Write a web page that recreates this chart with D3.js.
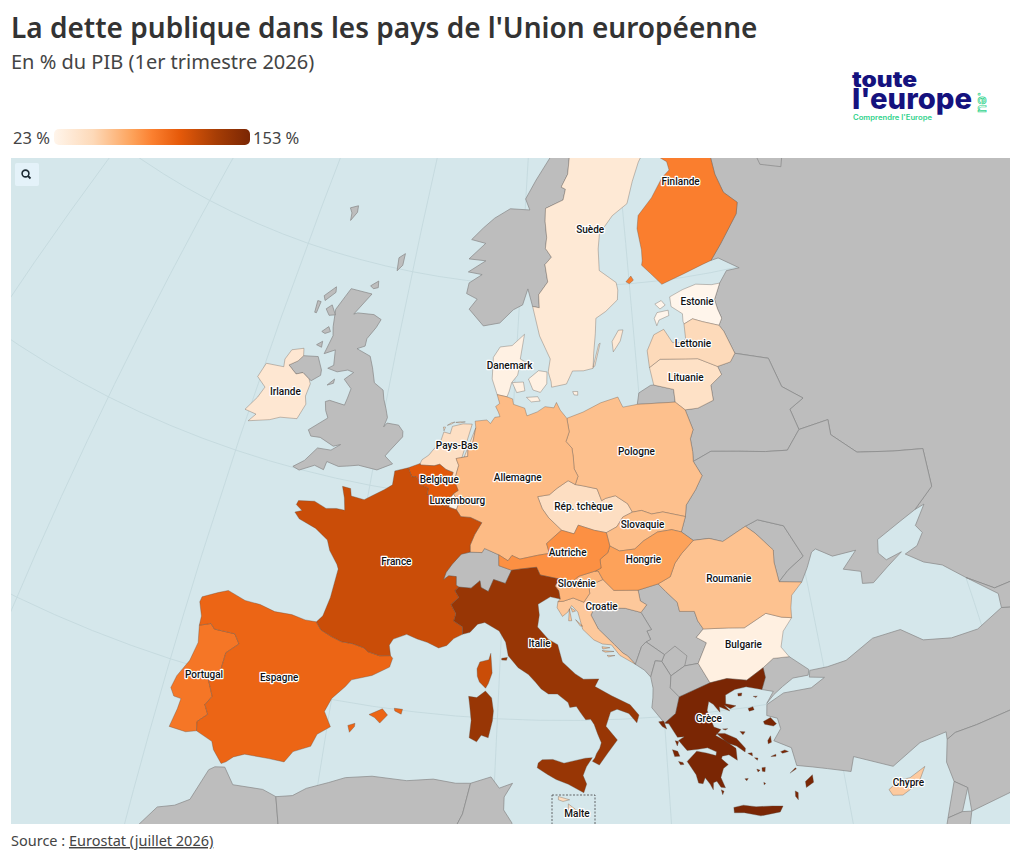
<!DOCTYPE html>
<html lang="fr">
<head>
<meta charset="utf-8">
<title>La dette publique dans les pays de l'Union européenne</title>
<script src="https://cdn.jsdelivr.net/npm/d3@7"></script>
<style>
  html, body { margin: 0; padding: 0; background: #fff; }
  svg { display: block; font-family: "Noto Sans", sans-serif; }
  .place { font-family: Roboto, sans-serif; font-size: 10px; font-weight: 500; fill: #111; paint-order: stroke; stroke: #fff; stroke-width: 2.4px; stroke-linejoin: round; text-anchor: middle; }
</style>
</head>
<body>
<div id="chart"></div>
<script>
// Debt values
const countryNames = ["Estonie","Bulgarie","Luxembourg","Danemark","Suède","Irlande","Lituanie","Pays-Bas","Rép. tchèque","Malte","Lettonie","Chypre","Croatie","Roumanie","Pologne","Slovaquie","Allemagne","Slovénie","Hongrie","Autriche","Finlande","Portugal","Espagne","Belgique","France","Italie","Grèce"];
const debtValues = [23,28,27,27,34,36,42,43,44,46,48,56,57,60,61,62,63,66,75,82,89,93,101,108,117,138,153];
const legendRange = [23, 153];
const rampStops = [0,0.2,0.4,0.5,0.64,0.83,1];
const rampColors = ["#fff5eb","#fdd9b8","#fda25a","#fb8030","#e65a0a","#a63d05","#7a2604"];

// Where each country name goes, lon/lat
const labelAnchors = {
  "Finlande":[26.4,64.4],"Suède":[16.6,62.6],"Estonie":[25.85,58.8],"Lettonie":[24.9,56.92],"Lituanie":[23.9,55.4],"Danemark":[9.5,56.3],
  "Irlande":[-7.8,53.25],"Pays-Bas":[5.9,52.4],"Belgique":[4.9,50.75],"Luxembourg":[6.37,49.87],"Allemagne":[10.6,51.15],"Pologne":[19.45,52.25],
  "Rép. tchèque":[15.4,49.85],"Slovaquie":[19.5,48.9],"Autriche":[14.25,47.75],"Hongrie":[19.4,47.3],"Roumanie":[24.95,46],"Slovénie":[14.85,46.3],
  "Croatie":[16.45,45.25],"Bulgarie":[25.3,42.9],"France":[2.7,46.73],"Espagne":[-3.35,40.5],"Portugal":[-7.8,39.78],"Italie":[12.45,43.55],"Grèce":[22.65,39.7],"Chypre":[33.45,35.15]
};

const rev = a => a.slice().reverse();

// Shared land borders, lon/lat
const frEs = [[-1.78,43.37],[-1.4,43.05],[-0.7,42.85],[0,42.7],[0.7,42.7],[1.45,42.6],[1.75,42.45],[2.5,42.35],[3.17,42.43]];
const esPt = [[-7.4,37.18],[-7.5,37.6],[-7,38.05],[-7.3,38.45],[-7,38.9],[-7.5,39.65],[-6.9,40],[-6.85,41],[-6.2,41.55],[-6.6,41.95],[-7.9,41.9],[-8.2,42.1],[-8.87,41.87]];
const frBe = [[2.54,51.09],[2.9,50.7],[3.2,50.75],[3.65,50.4],[4.2,50.3],[4.15,49.98],[4.85,49.95],[4.85,49.8],[5.4,49.6],[5.82,49.54]];
const frLu = [[5.82,49.54],[6.37,49.46]];
const frDe = [[6.37,49.46],[6.73,49.16],[7.4,49.17],[8.23,48.97],[7.8,48.4],[7.55,47.9],[7.59,47.58]];
const frCh = [[7.59,47.58],[7,47.45],[6.45,46.95],[6.1,46.55],[5.97,46.2],[6.3,46.4],[6.8,46.4],[6.85,46],[7.04,45.93]];
const frIt = [[7.04,45.93],[6.8,45.75],[7.1,45.45],[6.63,45.1],[7,44.7],[6.9,44.35],[7.5,44.12],[7.53,43.78]];
const beLu = [[5.82,49.54],[5.75,49.85],[6.03,50.18]];
const luDe = [[6.37,49.46],[6.5,49.8],[6.03,50.18]];
const deBe = [[6.03,50.18],[6.35,50.35],[6.15,50.6],[6.02,50.75]];
const nlBe = [[6.02,50.75],[5.7,50.75],[5.85,51.15],[5.3,51.25],[4.8,51.45],[4.4,51.35],[3.4,51.3],[3.36,51.37]];
const deNl = [[6.02,50.75],[6.1,51.15],[6.2,51.5],[5.95,51.8],[6.8,51.95],[6.75,52.4],[7.05,52.45],[7.2,53.3]];
const deDk = [[8.65,54.9],[9.45,54.83]];
const dePl = [[14.22,53.92],[14.4,53.3],[14.15,52.85],[14.6,52.55],[14.7,52.1],[14.75,51.6],[15.03,51.25],[14.82,50.87]];
const deCz = [[14.82,50.87],[14.3,51.05],[13.5,50.7],[12.95,50.4],[12.1,50.3],[12.45,49.75],[12.9,49.35],[13.83,48.77]];
const deAt = [[13.83,48.77],[13.45,48.55],[12.8,48.15],[13,47.7],[12.75,47.67],[12.2,47.6],[11,47.4],[10.45,47.55],[10.2,47.3],[9.55,47.55]];
const deCh = [[9.55,47.55],[8.55,47.8],[8.4,47.6],[7.59,47.58]];
const chAt = [[10.47,46.87],[9.6,47.05],[9.55,47.55]];
const itCh = [[7.04,45.93],[7.85,45.93],[8.4,46.3],[8.5,46],[9,45.83],[9.3,46.4],[10.1,46.25],[10.47,46.87]];
const itAt = [[10.47,46.87],[11.1,46.95],[12.15,47.05],[12.4,46.7],[13.7,46.52]];
const itSi = [[13.7,46.52],[13.4,46.2],[13.65,45.98],[13.75,45.6]];
const atCz = [[13.83,48.77],[14.7,48.6],[15,49],[16.1,48.75],[16.95,48.62]];
const atSk = [[16.95,48.62],[17.15,48]];
const atHu = [[17.15,48],[17,47.7],[16.45,47.4],[16.5,47],[16.1,46.87]];
const atSi = [[16.1,46.87],[15,46.65],[14.55,46.4],[13.7,46.52]];
const czSk = [[16.95,48.62],[17.7,48.87],[18.15,49.3],[18.85,49.5]];
const czPl = [[18.85,49.5],[18.55,49.9],[17.7,50.3],[17,50.2],[16.7,50.1],[16.4,50.65],[15.4,50.8],[14.82,50.87]];
const skPl = [[18.85,49.5],[19.5,49.55],[20.2,49.35],[21,49.4],[22.55,49.08]];
const skUa = [[22.55,49.08],[22.15,48.4]];
const skHu = [[22.15,48.4],[21.5,48.55],[20.5,48.5],[19.5,48.15],[18.85,47.8],[17.8,47.75],[17.15,48]];
const siHu = [[16.1,46.87],[16.3,46.87],[16.6,46.47]];
const hrHu = [[16.6,46.47],[17.3,45.95],[18.9,45.9]];
const huRs = [[18.9,45.9],[20.25,46.12]];
const huRo = [[20.25,46.12],[21.1,46.4],[21.5,47],[22,47.4],[22.9,47.95]];
const huUa = [[22.9,47.95],[22.15,48.4]];
const siHr = [[16.6,46.47],[15.65,46.2],[15.7,45.85],[15.3,45.45],[14.6,45.65],[13.95,45.5],[13.6,45.48]];
const hrRs = [[18.9,45.9],[19,45.4],[19.4,45.2],[19,44.87]];
const hrBa = [[19,44.87],[18,45.1],[17,45.15],[16,45.2],[15.75,44.85],[16.2,44.2],[17.2,43.45],[17.7,43.05],[18,42.9],[18.45,42.5]];
const roUaN = [[22.9,47.95],[24,47.95],[24.9,47.72],[26.6,48.25]];
const roMd = [[26.6,48.25],[27.2,47.85],[28.2,46.95],[28.1,46.4],[28.2,45.47]];
const roUaS = [[28.2,45.47],[29.65,45.25]];
const roBg = [[28.58,43.74],[27.95,43.85],[27,44.15],[25.5,43.65],[24.5,43.75],[22.9,43.85]];
const roRs = [[22.9,43.85],[22.6,44.25],[22.45,44.7],[21.5,44.77],[21.4,45.2],[20.7,45.75],[20.25,46.12]];
const bgRs = [[22.9,43.85],[22.4,43.5],[23,43.2],[22.35,42.3]];
const bgMk = [[22.35,42.3],[22.95,41.35]];
const bgGr = [[22.95,41.35],[24,41.45],[25.2,41.25],[26.3,41.7]];
const bgTr = [[26.3,41.7],[27,42.05],[28,42]];
const grTr = [[26.3,41.7],[26.35,41.25],[26.03,40.72]];
const grAl = [[20,39.7],[20.7,40.1],[21,40.85]];
const grMk = [[21,40.85],[22.95,41.35]];
const rsMk = [[22.35,42.3],[21.5,42.25],[20.6,41.85]];
const rsAl = [[20.6,41.85],[20.1,42.55]];
const rsMe = [[20.1,42.55],[20.3,42.85],[19.2,43.5]];
const rsBa = [[19.2,43.5],[19.5,43.6],[19.3,44],[19.6,44.05],[19,44.87]];
const baMe = [[18.45,42.5],[18.9,43.3],[19.2,43.5]];
const meAl = [[19.35,41.87],[19.7,42.6],[20.1,42.55]];
const mkAl = [[21,40.85],[20.5,41.3],[20.6,41.85]];
const seNo = [[11.2,59.05],[11.8,59],[11.7,59.6],[12.5,60.2],[12.2,61],[12.8,61.35],[12.2,61.75],[12.3,62.25],[12.1,63],[12.1,63.6],[13.9,64],[14.15,64.5],[13.7,64.6],[14.4,65.2],[14.6,66],[15.5,66.3],[16.4,67.2],[18.2,68.5],[20.55,69.05]];
const seFi = [[20.55,69.05],[21.6,68.65],[23.7,67.9],[23.5,66.5],[24.15,65.8]];
const fiNo = [[20.55,69.05],[22,68.5],[25,68.6],[26,69.9],[28,70.05],[29,69.7]];
const fiRu = [[29,69.7],[28.9,69],[28.5,68.2],[30,67.7],[29.1,66.9],[30.1,65.7],[30.1,64.4],[30.5,63.5],[31.6,62.9],[31.2,62.4],[29,61.2],[27.8,60.55]];
const eeLv = [[24.4,57.87],[25.2,58.05],[26,57.85],[27.35,57.55]];
const eeRu = [[27.35,57.55],[27.7,57.85],[27.5,58.3],[27.4,58.75],[28.15,59.45]];
const lvLt = [[21.05,56.07],[22,56.4],[24.1,56.27],[25.1,56.2],[26.6,55.7]];
const lvEast = [[26.6,55.7],[27.7,55.8],[28.2,56.15],[27.65,57.25],[27.35,57.55]];
const ltKa = [[21.25,55.25],[22.8,54.95],[22.8,54.36]];
const ltPl = [[22.8,54.36],[23.5,53.95]];
const ltBy = [[23.5,53.95],[24.5,53.95],[25.8,54.2],[25.8,54.9],[26.8,55.3],[26.6,55.7]];
const plKa = [[19.8,54.43],[22.8,54.36]];
const plBy = [[23.5,53.95],[23.9,53],[23.6,52.6],[23.65,52],[23.6,51.55]];
const plUa = [[23.6,51.55],[24.1,50.85],[23.5,50.25],[22.7,49.6],[22.55,49.08]];
const byUa = [[23.6,51.55],[25,51.9],[27,51.7],[29,51.45],[30.6,51.3],[31.8,52.1]];
const byRu = [[31.8,52.1],[31.5,53.1],[32.7,53.45],[31.3,54.2],[30.8,55.6],[28.2,56.15]];
const uaRu = [[31.8,52.1],[34.1,52.2],[34,51.5],[35.5,50.4],[38,49.95],[40.1,49.6],[39.8,47.85],[38.2,47.1]];

// Coasts and country rings, lon/lat
const franceMain = [...frBe,...frLu,...frDe,...frCh,...frIt,[7,43.55],[6.6,43.2],[6.1,43.05],[5.35,43.25],[4.7,43.35],[4,43.5],[3.2,43.2],[3,42.9],...rev(frEs),[-1.45,43.7],[-1.2,44.6],[-1.1,45.5],[-1.05,45.95],[-1.2,46.15],[-1.85,46.7],[-2.15,47.15],[-2.5,47.3],[-3.1,47.55],[-4.35,47.8],[-4.75,48.05],[-4.3,48.2],[-4.78,48.4],[-4.7,48.6],[-3.6,48.75],[-2.7,48.55],[-2,48.65],[-1.4,48.65],[-1.6,49.2],[-1.9,49.7],[-1.3,49.68],[-1.15,49.35],[-0.2,49.3],[0.2,49.5],[1.1,49.93],[1.6,50.2],[1.6,50.85]];
const corsica = [[9.4,43],[9.45,42.7],[9.55,42.1],[9.35,41.6],[9.2,41.38],[8.8,41.65],[8.65,41.9],[8.6,42.25],[8.75,42.57],[9.3,42.7]];
const spainMain = [...frEs,[3.32,42.32],[3.2,41.9],[2.2,41.4],[1,41.05],[0.7,40.7],[0,40.05],[-0.3,39.4],[0.2,38.75],[-0.5,38.3],[-0.75,37.7],[-1.7,37.3],[-2.1,36.75],[-3,36.75],[-4.4,36.7],[-5,36.45],[-5.35,36.15],[-5.6,36.02],[-6.2,36.55],[-6.4,36.9],...esPt,[-8.9,42.3],[-9.25,42.9],[-9.2,43.15],[-8.3,43.55],[-7.7,43.78],[-6.5,43.55],[-5.5,43.55],[-4.5,43.4],[-3.4,43.45],[-2.5,43.35]];
const mallorca = [[2.35,39.6],[3.1,39.95],[3.45,39.7],[3.05,39.28],[2.7,39.5]];
const menorca = [[3.8,40.05],[4.3,40.05],[4.25,39.82],[3.85,39.93]];
const ibiza = [[1.2,38.95],[1.6,39.1],[1.6,38.95],[1.35,38.65]];
const portugal = [...rev(esPt),[-8,37],[-8.99,37.02],[-8.8,37.9],[-8.75,38.4],[-9.2,38.42],[-9.5,38.75],[-9.35,39.35],[-8.85,40.2],[-8.65,41.1]];
const italyMain = [...itCh,...itAt,...itSi,[13.1,45.7],[12.3,45.35],[12.4,44.85],[12.3,44.3],[13,43.75],[13.6,43.5],[13.9,42.7],[14.7,42.15],[15.2,41.9],[16.15,41.9],[15.9,41.55],[16.9,41.1],[18,40.65],[18.5,40.15],[18.35,39.8],[17.9,40.25],[17.2,40.47],[16.8,40.35],[16.5,39.7],[17.15,39.05],[16.55,38.45],[16.05,37.92],[15.65,38.1],[15.8,38.25],[15.9,38.45],[16.1,38.7],[16.2,38.95],[16,39.35],[15.8,39.8],[15.6,40.05],[15.3,40.03],[15,40.35],[14.75,40.65],[14.35,40.6],[14.25,40.83],[13.6,41.22],[13.05,41.22],[12.6,41.45],[12.25,41.75],[11.8,42.1],[11.15,42.4],[10.5,42.93],[10.3,43.55],[9.85,44.05],[8.9,44.4],[8.45,44.3],[8,43.9],...rev(frIt)];
const sicily = [[12.5,38.02],[12.73,38.18],[13.35,38.2],[14,38.03],[15.25,38.25],[15.65,38.27],[15.3,37.85],[15.1,37.45],[15.3,37.05],[15.13,36.65],[14.25,37.05],[13.55,37.27],[13.05,37.5],[12.45,37.8]];
const sardinia = [[8.2,40.95],[8.7,40.92],[9.2,41.25],[9.6,40.95],[9.75,40.35],[9.72,39.9],[9.52,39.1],[9.1,39.2],[8.85,38.88],[8.4,39.05],[8.45,39.85],[8.3,40.55]];
const elba = [[10.1,42.8],[10.45,42.85],[10.4,42.72],[10.1,42.72]];
const germanyRing = [[7.1,53.6],[8,53.7],[8.3,53.55],[8.6,53.85],[9,53.9],[8.85,54.1],[8.6,54.35],[8.9,54.5],...deDk,[9.9,54.75],[10,54.5],[10.9,54.35],[11.1,54],[11.9,54.2],[12.5,54.45],[13.2,54.4],[13.4,54.65],[13.7,54.3],...dePl,...deCz,...deAt,...deCh,...rev(frDe),...luDe,...deBe,...deNl];
const netherlands = [...rev(deNl),[6.9,53.45],[6.2,53.42],[5.4,53.25],[5.3,52.9],[4.8,52.95],[4.65,52.5],[4.1,52],[3.9,51.8],[3.45,51.55],...rev(nlBe)];
const texel = [[4.72,53.17],[4.88,53.18],[4.8,53.0]];
const vlieland = [[5.0,53.27],[5.3,53.41],[5.55,53.46],[5.3,53.35]];
const ameland = [[5.62,53.45],[5.95,53.5],[6.35,53.52],[5.95,53.45]];
const belgium = [...frBe,...beLu,...deBe,...nlBe];
const luxembourg = [...frLu,...luDe,...rev(beLu)];
const switzerland = [...frCh,...itCh,...chAt,...deCh];
const austria = [...rev(deAt),...atCz,...atSk,...atHu,...atSi,...rev(itAt),...chAt];
const czechia = [...rev(deCz),...rev(czPl),...rev(czSk),...rev(atCz)];
const slovakia = [...czSk,...skPl,...skUa,...skHu,...rev(atSk)];
const hungary = [...rev(atHu),...rev(skHu),...rev(huUa),...rev(huRo),...rev(huRs),...rev(hrHu),...rev(siHu)];
const slovenia = [...rev(itSi),...rev(atSi),...siHu,...siHr];
const croatia = [...hrHu,...hrRs,...hrBa,[17.5,42.95],[17,43.45],[16.45,43.5],[15.9,43.7],[15.2,44.2],[14.9,45],[14.5,45.3],[14.25,45],[13.9,44.8],[13.55,45.2],...rev(siHr)];
const krk = [[14.45,45.2],[14.75,45.05],[14.55,45]];
const cres = [[14.35,45.15],[14.5,44.6],[14.3,44.6]];
const pag = [[14.75,44.65],[15.2,44.35],[15.05,44.35]];
const brac = [[16.4,43.38],[16.9,43.32],[16.45,43.27]];
const hvar = [[16.4,43.2],[17.15,43.14],[16.6,43.12]];
const korcula = [[16.7,42.97],[17.2,42.95],[16.8,42.9]];
const romania = [...huRo,...roUaN,...roMd,...roUaS,[28.85,44.75],[28.65,44.2],...roBg,...roRs];
const bulgaria = [...roBg,...bgRs,...bgMk,...bgGr,...bgTr,[27.6,42.5],[27.9,43.2]];
const greeceMain = [...bgGr,...grTr,[25.1,40.95],[24.4,40.9],[23.8,40.7],[23.75,40.3],[24.35,40.15],[24,40.05],[23.65,40.25],[23.95,39.95],[23.35,40.2],[23.35,39.95],[23,40.35],[22.75,40.5],[22.6,40.1],[22.9,39.3],[23.3,39.15],[22.95,38.9],[23.5,38.6],[24.05,38.2],[24.05,37.65],[23.6,37.95],[23.2,37.92],[23.15,37.8],[23.5,37.5],[23.2,37.35],[23,36.95],[23.2,36.45],[22.95,36.5],[22.75,36.8],[22.55,36.75],[22.5,36.42],[22.35,36.7],[22.1,37.02],[21.95,36.75],[21.7,36.8],[21.6,37.2],[21.15,37.85],[21.65,38.2],[21.75,38.28],[22.3,38.15],[22.85,37.98],[22.9,38.15],[22.4,38.38],[21.85,38.36],[21.2,38.35],[20.75,38.85],[21.1,39],[20.7,39],[20.25,39.65],...grAl,[22.95,41.35]];
const euboea = [[23,39],[23.5,38.95],[24.15,38.65],[24.6,38.15],[24.55,37.98],[24.1,38.3],[23.6,38.5]];
const crete = [[23.55,35.5],[24.1,35.55],[24.8,35.4],[25.7,35.33],[26.3,35.25],[26.1,35.0],[25,34.95],[24.1,35.2],[23.55,35.25]];
const rhodes = [[27.75,36.2],[28.2,36.45],[28.2,36.1],[27.75,35.92]];
const lesbos = [[25.85,39.25],[26.3,39.38],[26.6,39.05],[26.4,38.97],[25.9,39.12]];
const chios = [[25.95,38.35],[26.15,38.55],[26.15,38.25],[25.95,38.2]];
const samos = [[26.6,37.75],[26.85,37.8],[27.05,37.7],[26.7,37.66]];
const ikaria = [[26,37.6],[26.3,37.67],[26.3,37.58]];
const kos = [[26.95,36.7],[27.3,36.9],[27.35,36.85],[27,36.72]];
const lemnos = [[25.05,39.95],[25.35,40],[25.4,39.85],[25.1,39.82]];
const thasos = [[24.55,40.7],[24.8,40.7],[24.75,40.57],[24.55,40.58]];
const samothrace = [[25.45,40.47],[25.7,40.45],[25.6,40.4]];
const skyros = [[24.4,38.95],[24.7,38.9],[24.55,38.78]];
const skiathos = [[23.4,39.17],[23.7,39.15],[23.55,39.1]];
const andros = [[24.7,37.9],[24.95,37.9],[24.95,37.75]];
const tinos = [[25.05,37.65],[25.25,37.62],[25.2,37.52]];
const naxos = [[25.4,37.15],[25.6,37.15],[25.55,36.95],[25.4,36.98]];
const paros = [[25.1,37.12],[25.28,37.05],[25.15,36.98]];
const milos = [[24.35,36.75],[24.55,36.75],[24.45,36.65]];
const santorini = [[25.4,36.47],[25.5,36.4],[25.4,36.35]];
const karpathos = [[27.1,35.85],[27.25,35.75],[27.2,35.42],[27.07,35.6]];
const kythira = [[22.95,36.38],[23.1,36.3],[23,36.15]];
const corfu = [[19.65,39.78],[19.95,39.8],[20.1,39.42],[19.85,39.55]];
const lefkada = [[20.55,38.85],[20.75,38.8],[20.65,38.6]];
const kefalonia = [[20.35,38.45],[20.65,38.35],[20.75,38.12],[20.45,38.12]];
const zakynthos = [[20.65,37.88],[20.9,37.82],[20.95,37.72],[20.75,37.72]];
const cyprus = [[32.3,35.05],[32.95,35.35],[33.6,35.35],[34.55,35.68],[34,35],[33,34.65],[32.45,34.75]];
const maltaIsle = [[14.33,35.98],[14.57,35.83],[14.45,35.81],[14.33,35.88]];
const gozoIsle = [[14.18,36.07],[14.35,36.03],[14.25,36.01],[14.18,36.03]];
const sweden = [...rev(seNo),[11.9,57.7],[12.85,56.65],[12.7,56.05],[12.95,55.6],[13,55.35],[14.2,55.5],[14.7,56.1],[15.6,56.1],[16.4,56.2],[16.5,56.9],[16.7,57.8],[16.8,58.5],[17.7,58.8],[18.8,59.3],[18.9,59.75],[18.8,60.1],[17.3,60.7],[17.3,61.7],[17.5,62.4],[18.9,63.2],[20.5,63.7],[21.3,64.7],[22.2,65.55],[22.5,65.75],...rev(seFi)];
const gotland = [[18.15,56.92],[18.1,57.4],[18.7,57.9],[19.1,57.9],[18.8,57.4],[18.4,57.1]];
const oland = [[16.4,56.25],[16.95,57.3],[17.08,57.35],[16.55,56.3]];
const finland = [...seFi,[25.3,65.4],[25.4,65],[24.5,64.7],[23.1,63.85],[21.5,63.1],[21.25,62.5],[21.45,61.5],[21.4,61],[21.3,60.8],[22,60.4],[22.95,59.82],[25,60.15],[27,60.45],...rev(fiRu),...rev(fiNo)];
const aland = [[19.7,60.1],[20.2,60.35],[20.4,60.15],[20,60]];
const estonia = [[28.15,59.45],[27.4,59.45],[26,59.6],[24.75,59.45],[23.5,59.2],[23.5,58.75],[24.4,58.35],[24.35,58],...eeLv,...eeRu];
const saaremaa = [[21.9,58.3],[22.2,58.55],[23.2,58.6],[23.2,58.35],[22.3,58.2],[22.05,57.95]];
const hiiumaa = [[22.1,58.95],[22.7,59.08],[23,58.85],[22.5,58.7]];
const latvia = [...lvLt,...lvEast,...rev(eeLv),[24.35,57.2],[24.1,57.03],[23.2,57.1],[22.6,57.75],[21.7,57.55],[21,56.85]];
const lithuania = [...lvLt,...rev(ltBy),...rev(ltPl),...rev(ltKa)];
const poland = [...dePl,...rev(czPl),...skPl,...rev(plUa),...rev(plBy),...rev(ltPl),...rev(plKa),[18.65,54.35],[18.5,54.55],[18.3,54.83],[16.9,54.6],[15.5,54.2]];
const denmarkJutland = [...deDk,[9.6,55.1],[9.75,55.5],[10.2,55.85],[10.3,56.2],[10.9,56.45],[10.35,56.6],[10.6,57.75],[9.6,57.2],[8.6,57.1],[8.1,56.6],[8.15,55.6]];
const funen = [[9.8,55.5],[10.7,55.55],[10.85,55.15],[10.2,55.05]];
const zealand = [[11.1,55.7],[11.9,56.1],[12.6,56.05],[12.6,55.5],[12.1,55.1],[11.5,55.2]];
const lolland = [[11,54.85],[11.9,54.9],[12.1,54.7],[11.4,54.65]];
const bornholm = [[14.7,55.15],[15.1,55.15],[15.1,54.98],[14.8,55]];
const ireland = [[-7.25,55.05],[-7.55,54.75],[-8.15,54.45],[-7.4,54.15],[-6.9,54.3],[-6.3,54.1],[-6.1,53.9],[-6.2,53.3],[-6,52.95],[-6.35,52.2],[-7.6,52.05],[-8.3,51.8],[-9.8,51.45],[-9.4,51.85],[-10.3,51.9],[-9.7,52.6],[-9.4,53.15],[-10.2,53.5],[-9.9,54.2],[-8.5,54.3],[-8.6,54.65],[-8.3,55.15],[-7.4,55.38]];

// Countries outside the union
const northernIreland = [[-7.25,55.05],[-6.1,55.2],[-5.55,54.65],[-5.5,54.4],[-6.1,54.05],[-6.3,54.1],[-6.9,54.3],[-7.4,54.15],[-8.15,54.45],[-7.55,54.75]];
const greatBritain = [[-5.7,50.05],[-5.2,49.96],[-4.2,50.35],[-3.5,50.25],[-3.4,50.65],[-2.5,50.55],[-1.9,50.65],[-1.1,50.8],[0.3,50.75],[1.35,51.15],[0.7,51.45],[1,51.75],[1.75,52.45],[1.7,52.7],[1.3,52.95],[0.4,52.95],[0.2,52.75],[0.35,53.2],[0.1,53.6],[-0.2,54],[-0.4,54.4],[-1.2,54.65],[-1.6,55.3],[-2,55.8],[-3.2,56],[-2.6,56.2],[-2.6,56.55],[-2.05,57.15],[-1.8,57.55],[-2.5,57.7],[-3.9,57.6],[-4.2,57.5],[-3.1,58.6],[-5,58.6],[-5.3,58.2],[-5.8,57.5],[-5.6,56.7],[-5.4,56.3],[-5.7,55.4],[-4.9,55.7],[-4.7,55],[-5.1,54.8],[-4.3,54.75],[-3.5,54.95],[-3,54.9],[-3.6,54.5],[-2.9,54.15],[-3,53.7],[-3.1,53.35],[-4.3,53.4],[-4.6,53.3],[-4.4,52.9],[-4.1,52.6],[-5.3,51.85],[-5,51.6],[-4.3,51.65],[-3.2,51.4],[-2.7,51.55],[-3.3,51.2],[-4.3,51.15],[-5,50.45]];
const man = [[-4.8,54.05],[-4.35,54.4],[-4.35,54.2]];
const skye = [[-6.6,57.4],[-6.2,57.65],[-5.7,57.25],[-6.2,57.15]];
const lewis = [[-7.1,57.95],[-6.3,58.5],[-6.2,58.25],[-6.9,57.75]];
const uist = [[-7.5,57.65],[-7.2,57.65],[-7.3,57.1],[-7.45,57.1]];
const mull = [[-6.4,56.35],[-5.95,56.65],[-5.7,56.45],[-6.1,56.3]];
const islay = [[-6.5,55.7],[-6.1,55.93],[-6.05,55.65]];
const orkney = [[-3.4,58.95],[-2.8,59.25],[-2.7,58.95],[-3.1,58.85]];
const shetland = [[-1.4,59.9],[-1.5,60.5],[-1,60.75],[-1,60.2]];
const faroe = [[-7.3,62.15],[-6.6,62.35],[-6.5,62.05],[-6.9,61.6],[-7,61.95]];
const norway = [[11.2,59.05],[10.7,59.85],[10.3,59.1],[9.5,58.85],[8.4,58.2],[7,58],[5.6,58.7],[6.2,59.2],[5.2,59.4],[5.3,59.9],[6.4,60.35],[5.1,60.4],[6.6,61],[5,61],[6.4,61.8],[5,61.9],[6,62.5],[7,63],[8.5,63.5],[10.5,63.5],[10,64],[11,64.9],[12.5,66],[14,67.2],[15.5,68.2],[17.5,69.2],[20,70],[25,71],[28,71],[31,70.3],...rev(fiNo),...rev(seNo).slice(1)];
const russiaMain = [[28.15,59.45],...rev(eeRu).slice(1),[27.65,57.25],[28.2,56.15],...rev(byRu).slice(1),...uaRu,[38.9,47.2],[37.9,46.4],[38.2,46],[37.6,45.5],[36.7,45.3],[37.7,44.7],[38.8,44.3],[40,43.4],[41.5,42.5],[46,42.5],[60,42],[60,70],[40,67.5],[41,66.5],[36,66.3],[33,66.7],[34.7,65.4],[35,64.3],[37,63.9],[38,64.8],[40.5,64.6],[40,66],[44,66.2],[44,68.5],[31,70.3],[29,69.7],...fiRu.slice(1),[28.5,60.6],[30.2,59.95],[29,59.95]];
const kaliningrad = [...plKa,...rev(ltKa),[21,55.25],[20,54.95]];
const belarus = [...ltBy,[27.7,55.8],[28.2,56.15],...rev(byRu).slice(1),...rev(byUa),...rev(plBy)];
const moldova = [[26.6,48.25],[27.5,48.45],[29.2,47.95],[30.1,46.4],[28.9,45.9],[28.2,45.47],...rev(roMd)];
const ukraine = [...plUa,...skUa,...rev(huUa),...roUaN,[27.5,48.45],[29.2,47.95],[30.1,46.4],[28.9,45.9],...roUaS,[30.2,45.85],[30.7,46.5],[31,46.6],[32,46.1],[33.6,46.1],[32.5,45.4],[33.6,45.1],[33.5,44.55],[34.2,44.45],[35.4,45],[36.5,45.45],[35.4,45.3],[35,45.7],[35.2,46.3],[37,46.8],[38.2,47.1],...rev(uaRu),...rev(byUa)];
const serbia = [...huRs,...rev(roRs),...bgRs,...rsMk,...rsAl,...rsMe,...rsBa,...rev(hrRs)];
const kosovo = [[20.6,41.85],[21.5,42.25],[21.7,42.7],[21,43.2],[20.3,42.85],[20.1,42.55]];
const bosnia = [...hrBa,...baMe,...rsBa];
const montenegro = [[18.45,42.5],[19,42.2],[19.35,41.87],...meAl,...rsMe,...rev(baMe)];
const albania = [[19.35,41.87],[19.45,41.35],[19.4,40.9],[19.3,40.45],...grAl,...mkAl,...rsAl,...rev(meAl)];
const macedonia = [...grMk,...rev(bgMk),...rsMk,...rev(mkAl)];
const andorra = [[1.42,42.6],[1.75,42.65],[1.75,42.45],[1.45,42.43]];
const turkeyThrace = [...bgTr,[29.05,41.25],[28.95,41],[28,41],[27.3,40.7],[26.7,40.4],[26.2,40.05],[26.7,40.55],...rev(grTr)];
const turkeyAsia = [[29.1,41.2],[30.2,41.2],[31.4,41.3],[33.3,42],[35.1,42.05],[36.3,41.3],[38,41],[39.7,41],[41.5,41.55],[43.5,41.1],[46,41],[50,40],[50,37],[42.3,37.1],[38,36.85],[36.7,36.8],[36.15,36.6],[36.2,36.95],[34.6,36.8],[32.8,36.05],[30.7,36.9],[30.4,36.25],[29.1,36.6],[28.3,36.8],[27.4,37],[27.25,37.85],[26.3,38.3],[26.8,38.8],[26.7,39.3],[26.1,39.5],[26.2,40],[27.3,40.4],[29,40.4],[29.9,40.75],[29,40.9]];
const georgia = [[40,43.4],[41.5,42.5],[46,42.5],[46,41],[43.5,41.1],[41.5,41.55],[41.6,42.2]];
const syria = [[36.15,36.6],[36.7,36.8],[38,36.85],[42.3,37.1],[41,34.4],[38.8,33.4],[36.5,33.1],[36.6,34.2],[35.95,34.65],[35.8,35.6]];
const lebanon = [[35.95,34.65],[36.6,34.2],[36,33.2],[35.15,33.1],[35.4,33.6]];
const iraqEast = [[42.3,37.1],[46,37],[50,34],[44,30],[38.8,33.4],[41,34.4]];
const israel = [[35.15,33.1],[36,33.2],[36.5,33.1],[35.6,31],[35,29.5],[34.3,31.3]];
const africaMorocco = [[-5.35,35.9],[-4.7,35.2],[-3,35.3],[-2.2,35.1],[-1.7,33.5],[-1.2,32.4],[-8,28],[-13,28],[-9.8,31.5],[-8.5,33.3],[-7.6,33.6],[-6.85,34.05],[-6.2,35.6],[-5.9,35.8]];
const africaAlgeria = [[-2.2,35.1],[-1.3,35.3],[-0.6,35.75],[0.6,36.2],[1.5,36.55],[3,36.8],[5,36.8],[6.5,37],[7.8,36.9],[8.65,36.95],[8.3,35.5],[7.5,34],[8.2,32.5],[9.5,30],[9.5,26],[-8,26],[-8,28],[-1.2,32.4],[-1.7,33.5]];
const africaTunisia = [[8.65,36.95],[9.8,37.3],[10.3,36.8],[11.05,37.05],[10.6,36.4],[10.6,35.8],[11.1,35.2],[10.2,34.3],[11.2,33.2],[11.6,32.5],[10.3,31.5],[9.5,30],[8.2,32.5],[7.5,34],[8.3,35.5]];

const euShapes = {
  "France":[franceMain,corsica],"Espagne":[spainMain,mallorca,menorca,ibiza],"Portugal":[portugal],"Italie":[italyMain,sicily,sardinia,elba],
  "Allemagne":[germanyRing],"Pays-Bas":[netherlands,texel,vlieland,ameland],"Belgique":[belgium],"Luxembourg":[luxembourg],"Autriche":[austria],"Rép. tchèque":[czechia],
  "Slovaquie":[slovakia],"Hongrie":[hungary],"Slovénie":[slovenia],"Croatie":[croatia,krk,cres,pag,brac,hvar,korcula],"Roumanie":[romania],"Bulgarie":[bulgaria],
  "Grèce":[greeceMain,euboea,crete,rhodes,lesbos,chios,samos,ikaria,kos,lemnos,thasos,samothrace,skyros,skiathos,andros,tinos,naxos,paros,milos,santorini,karpathos,kythira,corfu,lefkada,kefalonia,zakynthos],
  "Chypre":[cyprus],"Suède":[sweden,gotland,oland],"Finlande":[finland,aland],"Estonie":[estonia,saaremaa,hiiumaa],"Lettonie":[latvia],"Lituanie":[lithuania],
  "Pologne":[poland],"Danemark":[denmarkJutland,funen,zealand,lolland,bornholm],"Irlande":[ireland]
};
const otherShapes = [northernIreland,greatBritain,man,skye,lewis,uist,mull,islay,orkney,shetland,faroe,norway,russiaMain,kaliningrad,belarus,moldova,ukraine,serbia,kosovo,bosnia,montenegro,albania,macedonia,andorra,switzerland,turkeyThrace,turkeyAsia,georgia,syria,lebanon,iraqEast,israel,africaMorocco,africaAlgeria,africaTunisia];

const width = 1020, height = 861;
const mapBox = { x: 11, y: 158, w: 999, h: 666 };

// d3.geoArea tells us if a ring wraps the wrong way round the globe
function asFeature(rings) {
    const polys = rings.map(r => {
        const closed = [...r, r[0]];
        const poly = { type: "Polygon", coordinates: [closed] };
        if (d3.geoArea(poly) > 2 * Math.PI) poly.coordinates = [closed.slice().reverse()];
        return poly.coordinates;
    });
    return { type: "Feature", geometry: { type: "MultiPolygon", coordinates: polys } };
}

const projection = d3.geoAzimuthalEqualArea()
    .rotate([-14, -50])
    .scale(1245)
    .translate([564, 503.5])
    .precision(0.3);
const path = d3.geoPath(projection);

const color = d3.scaleLinear()
    .domain(rampStops.map(s => legendRange[0] + s * (legendRange[1] - legendRange[0])))
    .range(rampColors);

const svg = d3.select("#chart").append("svg").attr("width", width).attr("height", height);

// Headline block
svg.append("text").attr("x", 11).attr("y", 38).attr("font-size", 28).attr("font-weight", 600).attr("fill", "#333")
    .text("La dette publique dans les pays de l'Union européenne");
svg.append("text").attr("x", 11).attr("y", 69).attr("font-size", 20).attr("fill", "#444")
    .text("En % du PIB (1er trimestre 2026)");

// Legend
const defs = svg.append("defs");
const grad = defs.append("linearGradient").attr("id", "ramp");
rampStops.forEach((s, i) => grad.append("stop").attr("offset", s).attr("stop-color", rampColors[i]));
defs.append("clipPath").attr("id", "mapclip").append("rect")
    .attr("x", mapBox.x).attr("y", mapBox.y).attr("width", mapBox.w).attr("height", mapBox.h);
svg.append("text").attr("x", 13).attr("y", 144).attr("font-size", 16.5).attr("fill", "#444").text(legendRange[0] + " %");
svg.append("rect").attr("x", 54).attr("y", 129).attr("width", 196).attr("height", 16).attr("rx", 5).attr("fill", "url(#ramp)");
svg.append("text").attr("x", 253).attr("y", 144).attr("font-size", 16.5).attr("fill", "#444").text(legendRange[1] + " %");

// Logo, as text
const logo = svg.append("g").attr("font-family", "Inter, sans-serif");
logo.append("text").attr("x", 852).attr("y", 87).attr("font-size", 21).attr("font-weight", 900).attr("fill", "#15127e")
    .attr("textLength", 65).attr("lengthAdjust", "spacingAndGlyphs").text("toute");
logo.append("text").attr("x", 852).attr("y", 109).attr("font-size", 29).attr("font-weight", 800).attr("fill", "#15127e")
    .attr("textLength", 120).attr("lengthAdjust", "spacingAndGlyphs").text("l'europe");
logo.append("text").attr("x", 853).attr("y", 119.5).attr("font-size", 7).attr("font-weight", 600).attr("fill", "#2fd28b")
    .attr("textLength", 79).attr("lengthAdjust", "spacingAndGlyphs").text("Comprendre l'Europe");
logo.append("text").attr("transform", "translate(978,92) rotate(90)").attr("font-size", 14).attr("font-weight", 500)
    .attr("fill", "#fff").attr("stroke", "#2fd28b").attr("stroke-width", 0.7).text(".eu");

// Map
const map = svg.append("g").attr("clip-path", "url(#mapclip)");
map.append("rect").attr("x", mapBox.x).attr("y", mapBox.y).attr("width", mapBox.w).attr("height", mapBox.h).attr("fill", "#d5e7eb");
map.append("path").datum(d3.geoGraticule().step([10, 10])()).attr("d", path).attr("fill", "none").attr("stroke", "#c4d9de").attr("stroke-width", 0.9);

map.append("g").selectAll("path").data(otherShapes).join("path")
    .attr("d", d => path(asFeature([d])))
    .attr("fill", "#bdbdbd").attr("stroke", "#868686").attr("stroke-width", 0.7);

map.append("g").selectAll("path").data(countryNames.filter(n => euShapes[n])).join("path")
    .attr("d", n => path(asFeature(euShapes[n])))
    .attr("fill", n => color(debtValues[countryNames.indexOf(n)]))
    .attr("stroke", "#5a4a40").attr("stroke-opacity", 0.55).attr("stroke-width", 0.6);

// Malta gets its own enlarged view in a dashed box
const maltaBox = { x: 552, y: 795, w: 43, h: 29 };
const maltaProjection = d3.geoAzimuthalEqualArea().rotate([-14.37, -35.93]).scale(4700).translate([maltaBox.x + 19, maltaBox.y + 13]);
map.append("rect").attr("x", maltaBox.x).attr("y", maltaBox.y).attr("width", maltaBox.w).attr("height", maltaBox.h + 4)
    .attr("fill", "#d5e7eb").attr("stroke", "#444").attr("stroke-width", 0.8).attr("stroke-dasharray", "2,1.5");
map.append("path").attr("d", d3.geoPath(maltaProjection)(asFeature([maltaIsle, gozoIsle])))
    .attr("fill", color(debtValues[countryNames.indexOf("Malte")])).attr("stroke", "#5a4a40").attr("stroke-opacity", 0.55).attr("stroke-width", 0.6);

// Search button of the original map
const btn = map.append("g");
btn.append("rect").attr("x", 15).attr("y", 163).attr("width", 24).attr("height", 23).attr("rx", 2).attr("fill", "#e4f2f9");
btn.append("circle").attr("cx", 25.5).attr("cy", 173.5).attr("r", 3.4).attr("fill", "none").attr("stroke", "#1d2b33").attr("stroke-width", 1.6);
btn.append("line").attr("x1", 28).attr("y1", 176).attr("x2", 30.5).attr("y2", 178.5).attr("stroke", "#1d2b33").attr("stroke-width", 1.8);

// Country names
map.append("g").selectAll("text").data(Object.keys(labelAnchors)).join("text")
    .attr("class", "place")
    .attr("x", n => projection(labelAnchors[n])[0])
    .attr("y", n => projection(labelAnchors[n])[1] + 3.5)
    .text(n => n);
map.append("text").attr("class", "place").attr("x", maltaBox.x + 25).attr("y", maltaBox.y + 22).text("Malte");

// Source line
const src = svg.append("text").attr("x", 11).attr("y", 846).attr("font-size", 14.5).attr("fill", "#444");
src.append("tspan").text("Source : ");
src.append("tspan").attr("text-decoration", "underline").text("Eurostat (juillet 2026)");
</script>
</body>
</html>
